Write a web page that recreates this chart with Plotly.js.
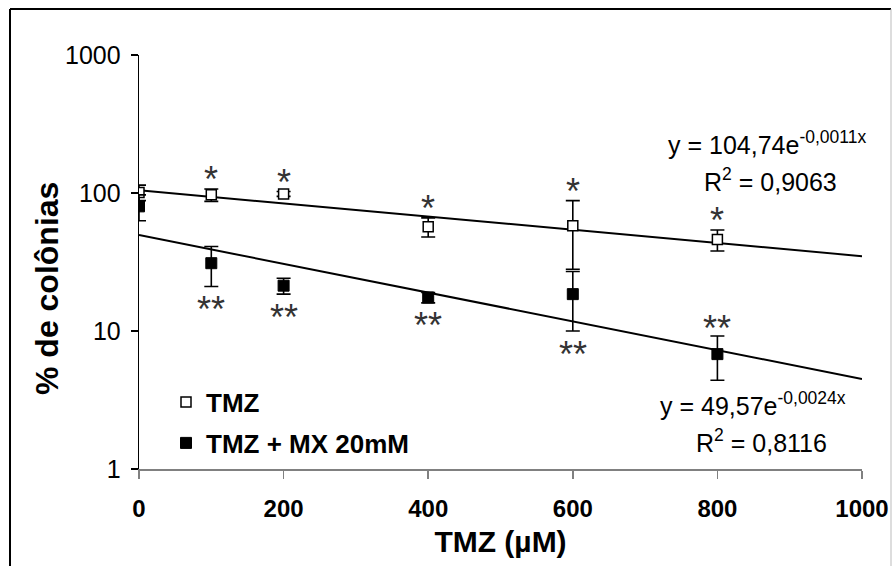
<!DOCTYPE html>
<html>
<head>
<meta charset="utf-8">
<script src="https://cdn.plot.ly/plotly-3.0.1.min.js"></script>
<style>
  html, body { margin: 0; padding: 0; background: #fff; }
  #chart { width: 892px; height: 566px; }
</style>
</head>
<body>
<div id="chart"></div>
<script>
// ---- data ----
const doses      = [0, 100, 200, 400, 600, 800];          // TMZ (µM)
const tmzMean    = [101, 97, 98.5, 57, 58, 46];           // % de colônias, TMZ
const tmzErr     = [13, 10, 4, 9, 30, 8];
const mxMean     = [80, 31, 21.3, 17.5, 18.5, 6.8];       // % de colônias, TMZ + MX 20mM
const mxErr      = [17, 10, 2.8, 1.5, 8.5, 2.4];
const tmzSig     = ['', '*', '*', '*', '*', '*'];
const mxSig      = ['', '**', '**', '**', '**', '**'];
const mxSigSide  = ['', 'below', 'below', 'below', 'below', 'above'];
const trendX     = [0, 1000];
const tmzFit     = {a: 104.74, b: -0.0011, r2: '0,9063'};
const mxFit      = {a: 49.57,  b: -0.0024, r2: '0,8116'};
const xTicks     = [0, 200, 400, 600, 800, 1000];
const yTicks     = [1, 10, 100, 1000];

// ---- geometry helpers (pixel -> paper) ----
const L = 139, R = 862, T = 55, B = 469, W = 892, H = 566;
const px = x => (x - L) / (R - L);
const py = y => (B - y) / (B - T);

const FONT = 'Liberation Sans, Arial, sans-serif';

const tmzTrendY = trendX.map(x => tmzFit.a * Math.exp(tmzFit.b * x));
const mxTrendY  = trendX.map(x => mxFit.a * Math.exp(mxFit.b * x));

const traces = [
  { x: trendX, y: tmzTrendY, mode: 'lines', line: {color: '#000', width: 2}, showlegend: false, hoverinfo: 'skip' },
  { x: trendX, y: mxTrendY,  mode: 'lines', line: {color: '#000', width: 2}, showlegend: false, hoverinfo: 'skip' },
  { x: doses, y: tmzMean, name: 'TMZ', mode: 'markers', legend: 'legend',
    marker: {symbol: 'square', size: 10, color: '#fff', line: {color: '#000', width: 1.5}},
    error_y: {type: 'data', array: tmzErr, visible: true, color: '#000', thickness: 1.6, width: 7} },
  { x: doses, y: mxMean, name: 'TMZ + MX 20mM', mode: 'markers', legend: 'legend2',
    marker: {symbol: 'square', size: 11, color: '#000', line: {color: '#000', width: 1}},
    error_y: {type: 'data', array: mxErr, visible: true, color: '#000', thickness: 1.6, width: 7} }
];

const annotations = [];
const starFont = {family: FONT, size: 36, color: '#333'};
doses.forEach((d, i) => {
  if (tmzSig[i]) {
    annotations.push({x: d, y: Math.log10(tmzMean[i] + tmzErr[i]), xref: 'x', yref: 'y',
      text: tmzSig[i], showarrow: false, font: starFont, xanchor: 'center', yanchor: 'middle', yshift: 9});
  }
  if (mxSig[i]) {
    const above = mxSigSide[i] === 'above';
    const v = above ? mxMean[i] + mxErr[i] : mxMean[i] - mxErr[i];
    annotations.push({x: d, y: Math.log10(v), xref: 'x', yref: 'y',
      text: mxSig[i], showarrow: false, font: starFont, xanchor: 'center', yanchor: 'middle',
      yshift: above ? 8 : -23});
  }
});

const eqFont = {family: FONT, size: 25, color: '#000'};
const fmt = v => String(v).replace('.', ',');
annotations.push(
  {x: px(767), y: py(143), xref: 'paper', yref: 'paper', showarrow: false, font: eqFont,
   text: 'y = ' + fmt(tmzFit.a) + 'e<sup>' + fmt(tmzFit.b) + 'x</sup>', xanchor: 'center', yanchor: 'middle'},
  {x: px(770), y: py(180), xref: 'paper', yref: 'paper', showarrow: false, font: eqFont,
   text: 'R<sup>2</sup> = ' + tmzFit.r2, xanchor: 'center', yanchor: 'middle'},
  {x: px(753), y: py(404), xref: 'paper', yref: 'paper', showarrow: false, font: eqFont,
   text: 'y = ' + fmt(mxFit.a) + 'e<sup>' + fmt(mxFit.b) + 'x</sup>', xanchor: 'center', yanchor: 'middle'},
  {x: px(761), y: py(441), xref: 'paper', yref: 'paper', showarrow: false, font: eqFont,
   text: 'R<sup>2</sup> = ' + mxFit.r2, xanchor: 'center', yanchor: 'middle'},
  // y axis title (placed to match the reference position)
  {x: px(47), y: py(289), xref: 'paper', yref: 'paper', showarrow: false, textangle: -90,
   font: {family: FONT, size: 32, color: '#000', weight: 'bold'},
   text: '% de colônias', xanchor: 'center', yanchor: 'middle'}
);

const shapes = [
  {type: 'line', xref: 'paper', yref: 'paper', x0: px(10), x1: px(891), y0: py(9), y1: py(9), line: {color: '#000', width: 2}},
  {type: 'line', xref: 'paper', yref: 'paper', x0: px(10), x1: px(10), y0: py(9), y1: py(570), line: {color: '#000', width: 2}},
  {type: 'line', xref: 'paper', yref: 'paper', x0: px(891), x1: px(891), y0: py(9), y1: py(570), line: {color: '#bbb', width: 1}}
];

const legendBase = {font: {family: FONT, size: 26, color: '#000', weight: 'bold'}, bgcolor: 'rgba(0,0,0,0)',
  borderwidth: 0, xanchor: 'left', yanchor: 'middle', xref: 'paper', yref: 'paper'};

const layout = {
  width: W, height: H,
  margin: {l: L, r: W - R, t: T, b: H - B},
  paper_bgcolor: '#fff', plot_bgcolor: '#fff',
  font: {family: FONT, color: '#000'},
  showlegend: true,
  legend:  Object.assign({}, legendBase, {x: px(166), y: py(402)}),
  legend2: Object.assign({}, legendBase, {x: px(166), y: py(443)}),
  xaxis: {
    range: [0, 1000], tickvals: xTicks, ticktext: xTicks.map(String),
    showline: true, linecolor: '#808080', linewidth: 2,
    ticks: 'outside', ticklen: 8, tickwidth: 1.5, tickcolor: '#808080',
    showgrid: false, zeroline: false,
    tickfont: {family: FONT, size: 24, color: '#000', weight: 'bold'},
    ticklabelstandoff: 9,
    title: {text: '<b>TMZ (µM)</b>', font: {family: FONT, size: 30, color: '#000'}, standoff: 10}
  },
  yaxis: {
    type: 'log', range: [0, 3], tickvals: yTicks, ticktext: yTicks.map(String),
    showline: true, linecolor: '#000', linewidth: 1.3,
    ticks: 'outside', ticklen: 7, tickwidth: 1.3, tickcolor: '#000',
    showgrid: false, zeroline: false,
    tickfont: {family: FONT, size: 25, color: '#000'},
    ticklabelstandoff: 5
  },
  annotations: annotations,
  shapes: shapes
};

Plotly.newPlot('chart', traces, layout, {displayModeBar: false, staticPlot: true});
</script>
</body>
</html>
